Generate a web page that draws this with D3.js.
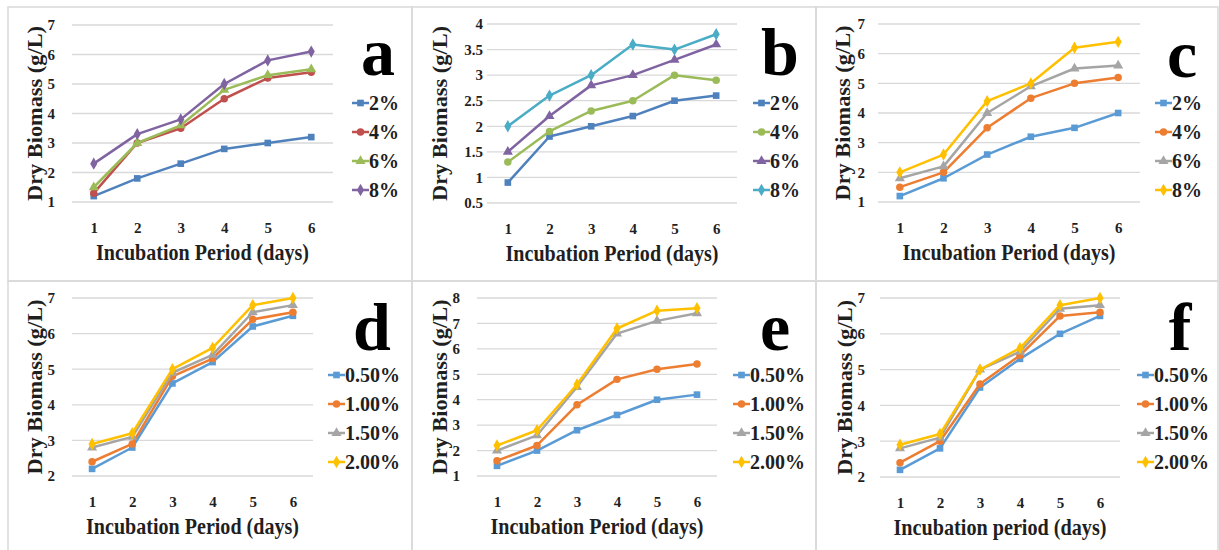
<!DOCTYPE html>
<html>
<head>
<meta charset="utf-8">
<script src="https://cdn.jsdelivr.net/npm/d3@7"></script>
<style>
body{margin:0;background:#fff}
</style>
</head>
<body>
<div id="chart"></div>
<script>
const days=[1,2,3,4,5,6]

const sugarLevels=["2%","4%","6%","8%"]
const extractLevels=["0.50%","1.00%","1.50%","2.00%"]

// panel a
const aValues=[
[1.2,1.8,2.3,2.8,3.0,3.2],
[1.3,3.0,3.5,4.5,5.2,5.4],
[1.5,3.0,3.6,4.8,5.3,5.5],
[2.3,3.3,3.8,5.0,5.8,6.1]
]
// panel b
const bValues=[
[0.9,1.8,2.0,2.2,2.5,2.6],
[1.3,1.9,2.3,2.5,3.0,2.9],
[1.5,2.2,2.8,3.0,3.3,3.6],
[2.0,2.6,3.0,3.6,3.5,3.8]
]
// panel c
const cValues=[
[1.2,1.8,2.6,3.2,3.5,4.0],
[1.5,2.0,3.5,4.5,5.0,5.2],
[1.8,2.2,4.0,4.9,5.5,5.6],
[2.0,2.6,4.4,5.0,6.2,6.4]
]
// panel d
const dValues=[
[2.2,2.8,4.6,5.2,6.2,6.5],
[2.4,2.9,4.8,5.3,6.4,6.6],
[2.8,3.1,4.9,5.4,6.6,6.8],
[2.9,3.2,5.0,5.6,6.8,7.0]
]
// panel e
const eValues=[
[1.4,2.0,2.8,3.4,4.0,4.2],
[1.6,2.2,3.8,4.8,5.2,5.4],
[2.0,2.6,4.5,6.6,7.1,7.4],
[2.2,2.8,4.6,6.8,7.5,7.6]
]
// panel f
const fValues=[
[2.2,2.8,4.5,5.3,6.0,6.5],
[2.4,3.0,4.6,5.4,6.5,6.6],
[2.8,3.1,5.0,5.5,6.7,6.8],
[2.9,3.2,5.0,5.6,6.8,7.0]
]

const ticks1to7=[1,2,3,4,5,6,7]
const ticksHalf=[0.5,1,1.5,2,2.5,3,3.5,4]
const ticks2to7=[2,3,4,5,6,7]
const ticks1to8=[1,2,3,4,5,6,7,8]

const colors2007=["#4F81BD","#C0504D","#9BBB59","#8064A2"]
const colorsB=["#4F81BD","#9BBB59","#8064A2","#4BACC6"]
const colors2013=["#5B9BD5","#ED7D31","#A5A5A5","#FFC000"]

const symbols=[d3.symbolSquare,d3.symbolCircle,d3.symbolTriangle,d3.symbolDiamond]

const width=1219
const height=550

const svg=d3.select("#chart").append("svg")
.attr("width",width)
.attr("height",height)
.attr("font-family","Liberation Serif")
.attr("font-weight","bold")

// cell borders
const colX=[8,412,816,1218]
const rowY=[7,281,552]
for(let r=0;r<2;r++){
for(let c=0;c<3;c++){
svg.append("rect")
.attr("x",colX[c]).attr("y",rowY[r])
.attr("width",colX[c+1]-colX[c]).attr("height",rowY[r+1]-rowY[r])
.attr("fill","none").attr("stroke","#D9D9D9").attr("stroke-width",1.5)
}
}

const panels=[
{letter:"a",values:aValues,names:sugarLevels,colors:colors2007,ticks:ticks1to7,domain:[1,7],
 x0:72,x1:333,y0:25,y1:202,gap:17,yTitleX:35,legX:352,legY:103,xTitle:"Incubation Period (days)",letterX:378,letterY:75},
{letter:"b",values:bValues,names:sugarLevels,colors:colorsB,ticks:ticksHalf,domain:[0.5,4],
 x0:487,x1:737,y0:24,y1:203,gap:4,yTitleX:440,legX:753,legY:103,xTitle:"Incubation Period (days)",letterX:780,letterY:75},
{letter:"c",values:cValues,names:sugarLevels,colors:colors2013,ticks:ticks1to7,domain:[1,7],
 x0:878,x1:1140,y0:24,y1:202,gap:13,yTitleX:843,legX:1155,legY:103,xTitle:"Incubation Period (days)",letterX:1182,letterY:77},
{letter:"d",values:dValues,names:extractLevels,colors:colors2013,ticks:ticks2to7,domain:[2,7],
 x0:72,x1:313,y0:298,y1:476,gap:17,yTitleX:35,legX:328,legY:375,xTitle:"Incubation Period (days)",letterX:372,letterY:350},
{letter:"e",values:eValues,names:extractLevels,colors:colors2013,ticks:ticks1to8,domain:[1,8],
 x0:477,x1:717,y0:298,y1:476,gap:17,yTitleX:440,legX:733,legY:375,xTitle:"Incubation Period (days)",letterX:775,letterY:350},
{letter:"f",values:fValues,names:extractLevels,colors:colors2013,ticks:ticks2to7,domain:[2,7],
 x0:880,x1:1120,y0:298,y1:477,gap:15,yTitleX:845,legX:1137,legY:375,xTitle:"Incubation period (days)",letterX:1180,letterY:350}
]

panels.forEach(drawPanel)

function styleText(sel,size){
sel.attr("font-family","Liberation Serif")
.attr("font-weight","bold")
.attr("font-size",size)
.attr("fill","#1f1f1f")
}

function drawPanel(p){

const g=svg.append("g")

const x=d3.scalePoint().domain(days).range([p.x0,p.x1]).padding(0.5)
const y=d3.scaleLinear().domain(p.domain).range([p.y1,p.y0])

// gridlines
g.append("g").selectAll("line")
.data(p.ticks)
.enter()
.append("line")
.attr("x1",p.x0).attr("x2",p.x1)
.attr("y1",d=>y(d)).attr("y2",d=>y(d))
.attr("stroke","#D9D9D9").attr("stroke-width",1.3)

const yAxis=g.append("g")
.attr("transform",`translate(${p.x0},0)`)
.call(d3.axisLeft(y).tickValues(p.ticks).tickSize(0).tickPadding(p.gap).tickFormat(d3.format("")))
yAxis.attr("font-family",null).attr("font-size",null)
yAxis.select(".domain").remove()
styleText(yAxis.selectAll("text"),15)

const xAxis=g.append("g")
.attr("transform",`translate(0,${p.y1})`)
.call(d3.axisBottom(x).tickSize(0).tickPadding(20))
xAxis.attr("font-family",null).attr("font-size",null)
xAxis.select(".domain").remove()
styleText(xAxis.selectAll("text"),15)

// titles
g.append("text")
.attr("x",(p.x0+p.x1)/2).attr("y",p.y1+58)
.attr("text-anchor","middle")
.attr("textLength",213).attr("lengthAdjust","spacingAndGlyphs")
.text(p.xTitle)
.call(styleText,24)

g.append("text")
.attr("transform",`translate(${p.yTitleX+7},${(p.y0+p.y1)/2}) rotate(-90)`)
.attr("text-anchor","middle")
.attr("textLength",175).attr("lengthAdjust","spacingAndGlyphs")
.text("Dry Biomass (g/L)")
.call(styleText,22)

g.append("text")
.attr("x",p.letterX).attr("y",p.letterY)
.attr("text-anchor","middle")
.text(p.letter)
.call(styleText,68)
.attr("fill","#000")

const line=d3.line().x((d,i)=>x(days[i])).y(d=>y(d))

p.values.forEach((vals,s)=>{

g.append("path")
.datum(vals)
.attr("d",line)
.attr("fill","none")
.attr("stroke",p.colors[s])
.attr("stroke-width",2.5)
.attr("stroke-linejoin","round")

g.append("g").selectAll("path")
.data(vals)
.enter()
.append("path")
.attr("d",d3.symbol().type(symbols[s]).size(44))
.attr("transform",(d,i)=>`translate(${x(days[i])},${y(d)})`)
.attr("fill",p.colors[s])

// legend
const ly=p.legY+s*29
g.append("line")
.attr("x1",p.legX).attr("x2",p.legX+17)
.attr("y1",ly).attr("y2",ly)
.attr("stroke",p.colors[s]).attr("stroke-width",2.5)
g.append("path")
.attr("d",d3.symbol().type(symbols[s]).size(44))
.attr("transform",`translate(${p.legX+8.5},${ly})`)
.attr("fill",p.colors[s])
g.append("text")
.attr("x",p.legX+17).attr("y",ly+6.5)
.text(p.names[s])
.call(styleText,20)

})

}
</script>
</body>
</html>
